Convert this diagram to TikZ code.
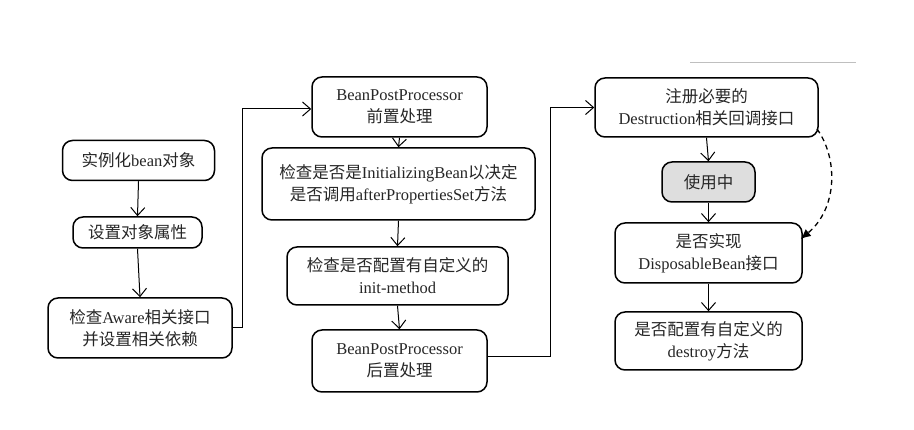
\documentclass[tikz,border=0pt]{standalone}
\usepackage{fontspec}
\setmainfont{Liberation Serif}
\newfontfamily\cjk{Noto Sans CJK SC}
\newcommand\C[1]{{\cjk #1}}
\usetikzlibrary{arrows.meta,calc}
\begin{document}
\begin{tikzpicture}[x=1pt,y=-1pt,
  box/.style={draw, rounded corners=10pt, line width=1.5pt, align=center, inner sep=0pt,
    font=\fontsize{16.5}{22}\selectfont, text=black!85},
  arr/.style={-{Straight Barb[length=8pt,width=14pt,line width=1pt]}, line width=1pt},
  dsh/.style={dashed, dash pattern=on 5pt off 4pt, line width=1.3pt, -{Latex[length=10pt,width=9pt]}}]
\useasboundingbox (0,0) rectangle (914,430);
% left column
\node[box, minimum width=152pt, minimum height=40pt] (n1) at (138.5,160.5) {\C{实例化}bean\C{对象}};
\node[box, minimum width=129pt, minimum height=31pt] (n2) at (137.5,232.5) {\C{设置对象属性}};
\node[box, minimum width=184pt, minimum height=60pt] (n3) at (140,328) {\C{检查}Aware\C{相关接口}\\\C{并设置相关依赖}};
% middle column
\node[box, minimum width=175pt, minimum height=60pt] (m1) at (399.5,107) {BeanPostProcessor\\\C{前置处理}};
\node[box, minimum width=273pt, minimum height=72pt] (m2) at (398.5,184) {\C{检查是否是}InitializingBean\C{以决定}\\\C{是否调用}afterPropertiesSet\C{方法}};
\node[box, minimum width=221pt, minimum height=58pt] (m3) at (397.5,276) {\C{检查是否配置有自定义的}\\init-method};
\node[box, minimum width=175pt, minimum height=62pt] (m4) at (399.5,361) {BeanPostProcessor\\\C{后置处理}};
% right column
\node[box, minimum width=223pt, minimum height=59pt] (r1) at (706.5,107.5) {\C{注册必要的}\\Destruction\C{相关回调接口}};
\node[box, fill=black!13, minimum width=93pt, minimum height=40pt] (r2) at (708.5,182) {\C{使用中}};
\node[box, minimum width=187pt, minimum height=60pt] (r3) at (708.5,253) {\C{是否实现}\\DisposableBean\C{接口}};
\node[box, minimum width=187pt, minimum height=58pt] (r4) at (708.5,341) {\C{是否配置有自定义的}\\destroy\C{方法}};
% arrows
\draw[arr] (n1.south) -- (n2.north);
\draw[arr] (n2.south) -- (n3.north);
\draw[arr] (m1.south) -- (m2.north);
\draw[arr] (m2.south) -- (m3.north);
\draw[arr] (m3.south) -- (m4.north);
\draw[arr] (r1.south) -- (r2.north);
\draw[arr] (r2.south) -- (r3.north);
\draw[arr] (r3.south) -- (r4.north);
\draw[arr] (n3.east) -- ++(10,0) |- ($(m1.west)+(0,2)$);
\draw[arr] ($(m4.east)+(0,-4)$) -- ++(63,0) |- (r1.west);
\coordinate (ds) at (817,129);
\draw[dsh] (ds) .. controls (838,158) and (838,208) .. ($(r3.east)+(-2,-14)$);
\coordinate (g1) at (690,62);
\coordinate (g2) at (856,62);
\draw[black!25, line width=0.8pt] (g1) -- (g2);
\end{tikzpicture}
\end{document}
